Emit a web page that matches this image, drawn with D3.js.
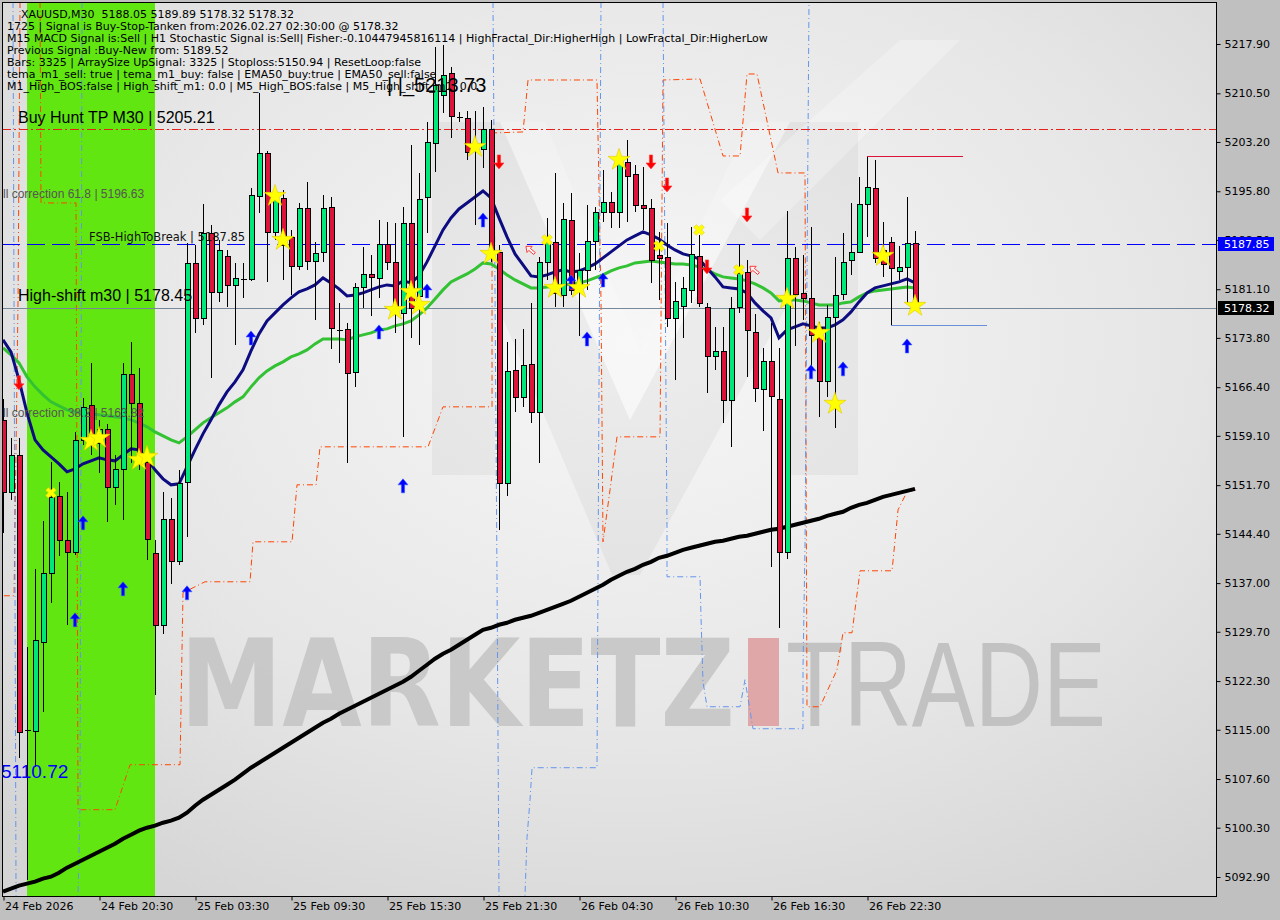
<!DOCTYPE html>
<html><head><meta charset="utf-8">
<script src="https://cdn.jsdelivr.net/npm/d3@7"></script>
<style>html,body{margin:0;padding:0;background:#c0c0c0;overflow:hidden}svg{display:block}</style>
</head><body>
<svg id="chart" width="1280" height="920"></svg>
<script>
// ---------------- DATA ----------------
const open = [5161.50,5150.70,5156.25,5115.00,5114.85,5128.20,5138.55,5150.10,5143.50,5141.70,
5158.50,5163.75,5158.05,5160.15,5151.45,5154.15,5168.40,5164.05,5155.20,5141.55,
5130.75,5146.65,5140.35,5152.20,5185.05,5176.80,5189.55,5180.70,5186.10,5181.75,
5182.70,5182.65,5195.10,5201.55,5189.70,5194.80,5188.95,5184.60,5193.30,5185.35,
5186.70,5193.45,5175.00,5175.15,5168.70,5181.45,5183.40,5182.80,5187.90,5185.20,
5177.55,5191.05,5180.10,5194.95,5203.05,5210.25,5213.55,5206.95,5206.80,5202.60,
5202.15,5205.15,5186.70,5152.05,5169.00,5164.95,5169.90,5162.70,5185.20,5188.20,
5180.25,5191.50,5181.30,5184.00,5188.35,5192.70,5194.20,5192.70,5200.20,5198.40,
5193.75,5193.30,5186.25,5185.95,5176.80,5178.60,5181.00,5186.10,5178.45,5171.10,
5171.85,5164.50,5178.45,5183.70,5174.70,5166.15,5170.35,5164.65,5141.70,5185.80,
5180.55,5179.80,5175.45,5167.35,5176.95,5180.40,5185.50,5186.70,5193.90,5196.30,
5187.00,5188.20,5183.85,5184.45,5188.05];
const high = [5164.65,5158.80,5158.80,5127.45,5139.15,5146.35,5155.20,5152.20,5150.70,5159.70,
5164.80,5170.05,5161.50,5160.90,5156.25,5170.05,5173.20,5169.30,5157.30,5143.50,
5150.70,5149.80,5154.00,5188.05,5187.75,5193.90,5190.75,5188.50,5187.00,5185.05,
5185.05,5196.30,5210.55,5201.85,5196.00,5196.00,5190.00,5194.05,5197.20,5188.20,
5195.25,5194.95,5179.05,5176.05,5182.05,5187.45,5186.25,5191.50,5191.20,5191.05,
5193.45,5202.75,5198.55,5206.20,5217.45,5217.75,5214.45,5207.70,5207.85,5207.85,
5208.45,5206.50,5187.75,5173.20,5173.65,5175.15,5179.05,5185.95,5191.80,5198.55,
5194.05,5195.55,5186.55,5193.75,5193.45,5199.00,5195.70,5201.25,5203.50,5199.75,
5199.45,5194.65,5189.70,5191.05,5182.20,5182.95,5190.45,5189.25,5179.05,5175.45,
5175.45,5179.95,5187.90,5185.50,5177.40,5172.30,5176.05,5172.30,5192.85,5187.45,
5186.25,5190.45,5176.20,5178.75,5185.95,5189.55,5194.05,5197.95,5200.95,5200.50,
5191.20,5188.95,5187.60,5194.95,5189.89];
const low = [5144.55,5149.50,5110.72,5092.50,5109.45,5117.70,5134.05,5141.10,5130.75,5141.25,
5157.75,5156.25,5153.55,5146.20,5148.75,5146.50,5155.05,5154.00,5140.50,5120.25,
5129.40,5136.90,5139.75,5143.95,5174.55,5175.75,5167.80,5179.20,5178.45,5172.75,
5179.80,5182.35,5192.55,5182.20,5188.50,5182.50,5180.25,5184.00,5184.00,5176.50,
5185.20,5172.15,5170.05,5155.05,5166.45,5178.30,5177.10,5179.80,5184.00,5174.55,
5158.95,5173.80,5172.75,5189.55,5198.70,5207.55,5203.80,5206.20,5200.50,5190.75,
5199.30,5185.20,5145.00,5150.10,5162.70,5163.45,5161.05,5155.05,5182.50,5178.45,
5178.45,5180.25,5174.10,5181.00,5184.00,5191.20,5190.30,5190.30,5191.20,5192.70,
5190.00,5182.05,5179.50,5175.45,5167.50,5173.80,5179.05,5178.45,5165.55,5169.00,
5161.05,5157.45,5177.55,5167.95,5164.20,5159.85,5139.45,5130.30,5140.65,5172.60,
5176.50,5168.55,5161.95,5164.95,5160.30,5179.50,5183.25,5186.55,5188.95,5185.05,
5182.95,5175.75,5182.50,5179.05,5178.32];
const close = [5150.70,5156.25,5114.70,5115.00,5128.50,5138.55,5149.95,5143.50,5141.70,5158.50,
5163.45,5158.05,5160.15,5151.45,5154.15,5168.40,5164.05,5155.95,5143.65,5130.75,
5146.65,5140.35,5152.05,5185.05,5176.80,5189.55,5180.70,5187.00,5181.75,5182.80,
5182.70,5195.25,5201.55,5189.70,5195.10,5187.75,5184.60,5193.30,5185.35,5186.55,
5193.30,5175.30,5175.00,5168.55,5181.45,5183.40,5182.95,5187.90,5185.20,5177.55,
5191.05,5178.30,5194.65,5203.20,5211.75,5213.25,5207.10,5206.80,5201.70,5202.30,
5205.15,5187.00,5152.05,5168.85,5164.95,5169.75,5162.70,5185.20,5188.20,5180.55,
5191.65,5181.00,5184.00,5188.35,5192.70,5194.20,5192.70,5200.50,5198.10,5193.75,
5193.30,5185.50,5185.80,5176.80,5179.35,5181.30,5186.40,5179.05,5171.10,5171.85,
5164.50,5178.30,5183.55,5175.00,5166.30,5170.35,5165.10,5141.70,5185.80,5180.40,
5179.80,5174.25,5167.35,5176.95,5180.25,5185.20,5186.70,5193.90,5196.45,5185.80,
5184.90,5184.30,5184.45,5188.05,5178.32];

const emaNavy = [5173.5,5171.7,5167.5,5162.55,5158.5,5157.0,5155.95,5154.9,5153.7,5154.15,
5154.9,5155.35,5155.8,5155.5,5155.35,5156.25,5157.15,5157.0,5155.65,5154.0,
5152.65,5151.75,5151.9,5154.45,5157.0,5159.4,5161.5,5163.75,5165.7,5167.2,
5169.0,5171.85,5174.4,5176.35,5177.55,5178.75,5179.8,5180.7,5181.15,5181.75,
5182.8,5182.05,5181.15,5180.1,5180.25,5180.55,5181.0,5181.45,5181.75,5181.6,
5182.35,5182.05,5183.1,5185.2,5187.6,5190.0,5191.8,5193.15,5194.05,5194.95,
5195.85,5194.8,5191.8,5188.95,5186.4,5184.75,5183.1,5182.95,5183.25,5183.7,
5184.0,5183.7,5183.85,5184.3,5184.9,5185.8,5186.7,5187.6,5188.5,5189.1,
5189.7,5189.25,5188.65,5187.75,5187.0,5186.4,5186.1,5185.65,5184.3,5182.95,
5181.45,5181.3,5181.15,5180.55,5179.05,5177.85,5176.8,5173.8,5175.0,5175.45,
5175.9,5175.6,5175.3,5175.3,5175.75,5176.5,5177.7,5179.2,5180.55,5181.3,
5181.6,5181.9,5182.2,5182.65,5182.05];
const emaGreen = [5172.3,5171.25,5170.05,5167.95,5166.45,5165.25,5164.2,5163.6,5163.0,5162.7,
5162.55,5162.4,5162.25,5162.1,5161.95,5161.8,5161.5,5161.05,5160.45,5159.7,
5159.1,5158.5,5158.05,5158.95,5160.0,5161.05,5161.8,5162.55,5163.3,5164.2,
5164.95,5166.45,5167.8,5168.85,5169.6,5170.2,5170.95,5171.4,5172.0,5172.9,
5173.65,5173.65,5173.65,5173.5,5173.95,5174.25,5174.55,5175.0,5175.15,5175.6,
5175.9,5176.35,5177.25,5178.3,5179.65,5181.0,5182.2,5182.8,5183.4,5184.15,
5185.05,5184.9,5184.15,5183.25,5182.5,5181.9,5181.3,5181.3,5181.45,5181.6,
5181.75,5181.9,5182.05,5182.35,5182.8,5183.25,5183.85,5184.3,5184.6,5185.05,
5185.2,5185.35,5185.2,5185.05,5184.9,5184.9,5184.75,5184.45,5184.0,5183.4,
5182.95,5182.8,5182.65,5182.35,5181.9,5181.3,5180.55,5179.35,5179.5,5179.5,
5179.35,5179.05,5178.75,5178.75,5178.75,5179.05,5179.2,5179.95,5180.55,5180.85,
5181.0,5181.15,5181.3,5181.45,5181.3];
const ema200 = [5090.7,5091.15,5091.6,5091.9,5092.2,5092.65,5092.95,5093.55,5094.3,5094.9,
5095.5,5096.1,5096.7,5097.3,5097.9,5098.65,5099.25,5099.85,5100.3,5100.6,
5101.05,5101.35,5101.8,5102.55,5103.6,5104.5,5105.25,5106.0,5106.75,5107.5,
5108.4,5109.3,5110.05,5110.8,5111.55,5112.3,5113.05,5113.8,5114.55,5115.3,
5116.05,5116.65,5117.4,5118.0,5118.6,5119.2,5119.8,5120.4,5121.0,5121.6,
5122.2,5122.95,5123.85,5124.75,5125.65,5126.4,5127.0,5127.75,5128.5,5129.25,
5130.0,5130.3,5130.75,5131.05,5131.5,5131.8,5132.1,5132.55,5133.0,5133.45,
5133.9,5134.35,5134.95,5135.55,5136.15,5136.75,5137.5,5138.1,5138.7,5139.15,
5139.75,5140.2,5140.8,5141.1,5141.55,5142.0,5142.3,5142.6,5142.9,5143.2,
5143.35,5143.65,5143.95,5144.1,5144.4,5144.7,5145.0,5145.15,5145.45,5145.75,
5146.05,5146.35,5146.65,5147.1,5147.4,5147.7,5148.3,5148.75,5149.05,5149.5,
5149.95,5150.25,5150.55,5150.85,5151.15];

const priceTicks = [5217.90,5210.50,5203.20,5195.80,5188.50,5181.10,5173.80,5166.40,5159.10,5151.70,5144.40,5137.00,5129.70,5122.30,5115.00,5107.60,5100.30,5092.90];
const timeTickBars = [0,12,24,36,48,60,72,84,96,108];
const timeTickLabels = ["24 Feb 2026","24 Feb 20:30","25 Feb 03:30","25 Feb 09:30","25 Feb 15:30","25 Feb 21:30","26 Feb 04:30","26 Feb 10:30","26 Feb 16:30","26 Feb 22:30"];

const buyHuntTP = 5205.21;
const fsbHighToBreak = 5187.85;
const lastPrice = 5178.32;
const highShift = 5178.45;
const corr618 = 5196.63;
const corr382 = 5163.82;
const lowLabel = 5110.72;
const highLabel = 5213.73;
const greenZoneBars = [3, 19];
const resistSeg = [108, 120, 5201.1];
const supportSeg = [111, 123, 5175.75];

const upArrowBars = [9,10,15,23,31,47,50,53,60,71,73,75,101,105,113];
const upArrowPrices = [5131.5,5146.05,5136.15,5135.55,5173.8,5174.7,5151.6,5180.85,5191.5,5182.2,5173.65,5182.5,5168.7,5169.15,5172.6];
const downArrowBars = [2,62,81,83,88,93];
const downArrowPrices = [5167.05,5200.2,5200.2,5196.75,5184.45,5192.25];
const hollowArrowBars = [65.9,93.9];
const hollowArrowPrices = [5187.0,5184.0];
const starBars = [11,12,17,18,34,35,49,51,52,59,61,69,72,77,98,102,104,110,114];
const starPrices = [5158.35,5158.8,5155.5,5155.95,5195.1,5188.5,5178.0,5180.7,5178.75,5202.45,5186.4,5181.3,5181.3,5200.5,5179.65,5174.55,5163.9,5186.1,5178.6];
const crossBars = [6,68,82,87,92];
const crossPrices = [5150.55,5188.5,5187.6,5190.0,5184.0];

// stepped channel lines [bar, price]
const orangeLineA = [[2.13,5224.2],[1.88,5179.5],[1.38,5135.1],[-0.13,5135.1]];
const orangeLineB = [[4.63,5224.2],[4.75,5194.05],[9.13,5194.05],[9.38,5103.0],[14.0,5103.0],[15.88,5109.75],[22.13,5109.75],[22.5,5135.55],[25.25,5137.2],[30.88,5137.2],[31.25,5143.2],[36.13,5143.2],[36.75,5151.75],[39.13,5151.75],[39.63,5157.45],[53.13,5157.45],[55.0,5163.45],[61.13,5163.45],[61.13,5204.55],[65.0,5204.7],[65.63,5212.5],[74.25,5212.5],[74.75,5179.5],[75.0,5143.2],[75.88,5151.0],[76.75,5158.95],[82.13,5158.95],[82.5,5212.5],[87.13,5212.65],[90.0,5201.1],[92.13,5201.1],[93.0,5213.4],[94.25,5213.4],[96.88,5198.55],[100.25,5198.55],[100.5,5118.45],[102.13,5118.45],[104.25,5124.0],[105.0,5129.55],[106.13,5129.55],[107.13,5138.85],[111.13,5138.85],[111.88,5148.0],[113.0,5150.7],[114.13,5151.0]];
const blueLine1 = [[1.25,5224.2],[1.63,5090.1]];
const blueLine2 = [[9.88,5224.2],[9.63,5103.45],[9.38,5090.1]];
const blueLine3 = [[61.25,5224.2],[61.75,5137.95],[62.0,5090.1]];
const blueLine4 = [[74.75,5224.2],[74.25,5109.3],[66.13,5109.3],[65.88,5104.5],[65.5,5098.8],[65.25,5090.1]];
const blueLine5 = [[82.5,5224.2],[83.0,5145.3],[83.0,5137.95],[87.13,5137.95],[87.25,5131.95],[87.5,5122.2],[88.0,5118.45],[92.13,5118.45],[92.75,5122.5],[93.75,5115.15],[100.0,5115.15],[100.0,5124.0],[100.25,5142.45],[100.38,5163.45],[100.75,5224.2]];

const headerLines = [
 "1725 | Signal is Buy-Stop-Tanken from:2026.02.27 02:30:00 @ 5178.32",
 "M15 MACD Signal is:Sell | H1 Stochastic Signal is:Sell| Fisher:-0.10447945816114 | HighFractal_Dir:HigherHigh | LowFractal_Dir:HigherLow",
 "Previous Signal :Buy-New from: 5189.52",
 "Bars: 3325 | ArraySize UpSignal: 3325 | Stoploss:5150.94 | ResetLoop:false",
 "tema_m1_sell: true | tema_m1_buy: false | EMA50_buy:true | EMA50_sell:false",
 "M1_High_BOS:false | High_shift_m1: 0.0 | M5_High_BOS:false | M5_High_shift_m1: 0.0"
];
const titleLine = "XAUUSD,M30  5188.05 5189.89 5178.32 5178.32";

// ---------------- DRAW ----------------
const svg = d3.select("#chart");
const L = 2, T = 2, R = 1216, B = 896;
const x = d3.scaleLinear().domain([0, 114]).range([3, 915]);
const y = d3.scaleLinear().domain([5092.9, 5217.9]).range([877, 44]);

const defs = svg.append("defs");
const rg = defs.append("radialGradient").attr("id","bg").attr("cx","0.52").attr("cy","0.38").attr("r","0.75");
rg.append("stop").attr("offset","0").attr("stop-color","#f7f7f7");
rg.append("stop").attr("offset","0.6").attr("stop-color","#e6e6e6");
rg.append("stop").attr("offset","1").attr("stop-color","#d4d4d4");
defs.append("clipPath").attr("id","plot").append("rect").attr("x",L).attr("y",T).attr("width",R-L).attr("height",B-T);

svg.append("rect").attr("width",1280).attr("height",920).attr("fill","#c0c0c0");
svg.append("rect").attr("x",L).attr("y",T).attr("width",R-L).attr("height",B-T).attr("fill","url(#bg)");

const g = svg.append("g").attr("clip-path","url(#plot)");

// logo watermark
g.append("path").attr("d","M432,122L500,122L630,420L790,122L858,122L858,475L790,475L790,300L640,575L612,575L495,300L495,475L432,475Z")
 .attr("fill","#000").attr("opacity",0.04);
g.append("path").attr("d","M500,122L545,122L640,350L750,122L790,122L630,420Z").attr("fill","#fff").attr("opacity",0.2);
g.append("path").attr("d","M720,200L900,40L960,40L760,240Z").attr("fill","#fff").attr("opacity",0.25);

// green zone
g.append("rect").attr("x",x(greenZoneBars[0])).attr("y",T).attr("width",x(greenZoneBars[1])-x(greenZoneBars[0])).attr("height",B-T).attr("fill","#62e612");

// MARKETZ TRADE watermark
g.append("text").attr("x",180).attr("y",726).attr("font-family","DejaVu Sans, sans-serif").attr("font-weight","bold")
 .attr("font-size",121).attr("textLength",555).attr("lengthAdjust","spacingAndGlyphs").attr("fill","#c6c6c6").attr("opacity",0.9).text("MARKETZ");
g.append("rect").attr("x",748).attr("y",638).attr("width",31).attr("height",88).attr("fill","#dfa7a7");
g.append("text").attr("x",786).attr("y",726).attr("font-family","Liberation Sans, Arial, sans-serif").attr("font-weight","normal")
 .attr("font-size",120).attr("textLength",320).attr("lengthAdjust","spacingAndGlyphs").attr("fill","#c2c2c2").text("TRADE");

// stepped lines
const stepLine = d3.line().x(d=>x(d[0])).y(d=>y(d[1]));
[orangeLineA, orangeLineB].forEach(a=>{
  g.append("path").attr("d",stepLine(a)).attr("fill","none").attr("stroke","#ff4500").attr("stroke-width",1).attr("stroke-dasharray","6,3,1,3");
});
[blueLine1, blueLine2, blueLine3, blueLine4, blueLine5].forEach(a=>{
  g.append("path").attr("d",stepLine(a)).attr("fill","none").attr("stroke","#6495ed").attr("stroke-width",1).attr("stroke-dasharray","6,3,1,3");
});

// horizontal level lines
g.append("line").attr("x1",L).attr("x2",R).attr("y1",Math.round(y(buyHuntTP))+0.5).attr("y2",Math.round(y(buyHuntTP))+0.5)
 .attr("stroke","#e8201c").attr("stroke-dasharray","9,3,2,3");
g.append("line").attr("x1",L).attr("x2",R).attr("y1",Math.round(y(fsbHighToBreak))+0.5).attr("y2",Math.round(y(fsbHighToBreak))+0.5)
 .attr("stroke","#0000ff").attr("stroke-dasharray","18,7");
g.append("line").attr("x1",L).attr("x2",R).attr("y1",Math.round(y(lastPrice))+0.5).attr("y2",Math.round(y(lastPrice))+0.5)
 .attr("stroke","#778899");
g.append("line").attr("x1",x(resistSeg[0])).attr("x2",x(resistSeg[1])).attr("y1",Math.round(y(resistSeg[2]))+0.5).attr("y2",Math.round(y(resistSeg[2]))+0.5).attr("stroke","#dc143c");
g.append("line").attr("x1",x(supportSeg[0])).attr("x2",x(supportSeg[1])).attr("y1",Math.round(y(supportSeg[2]))+0.5).attr("y2",Math.round(y(supportSeg[2]))+0.5).attr("stroke","#6a8fd8");

// moving averages
const maLine = d3.line().x((d,i)=>x(i)).y(d=>y(d));
g.append("path").attr("d",maLine(ema200)).attr("fill","none").attr("stroke","#000").attr("stroke-width",4);
g.append("path").attr("d",maLine(emaGreen)).attr("fill","none").attr("stroke","#33c233").attr("stroke-width",3);
g.append("path").attr("d",maLine(emaNavy)).attr("fill","none").attr("stroke","#0c0c80").attr("stroke-width",3);

// candles
const cg = g.append("g").attr("shape-rendering","crispEdges");
open.forEach((o,i)=>{
  const c = close[i], cx = Math.round(x(i)) + 0.5;
  cg.append("line").attr("x1",cx).attr("x2",cx).attr("y1",y(high[i])).attr("y2",y(low[i])).attr("stroke","#000");
  const top = y(Math.max(o,c)), bot = y(Math.min(o,c));
  if (bot - top < 1.5) {
    cg.append("line").attr("x1",cx-3).attr("x2",cx+3).attr("y1",Math.round(top)+0.5).attr("y2",Math.round(top)+0.5).attr("stroke","#000");
  } else {
    cg.append("rect").attr("x",cx-2.5).attr("y",Math.round(top)+0.5).attr("width",5).attr("height",Math.round(bot-top))
      .attr("fill", c>o ? "#00e87a" : "#dc143c").attr("stroke","#000").attr("stroke-width",1);
  }
});

// markers
const arrowUp = "M-1.6,7L1.6,7L1.6,-1L5,-1L0,-7L-5,-1L-1.6,-1Z";
upArrowBars.forEach((b,i)=>{
  g.append("path").attr("d",arrowUp).attr("transform",`translate(${x(b)},${y(upArrowPrices[i])})`).attr("fill","#0000ff").attr("stroke","#3a5cff").attr("stroke-width",0.6);
});
downArrowBars.forEach((b,i)=>{
  g.append("path").attr("d",arrowUp).attr("transform",`translate(${x(b)},${y(downArrowPrices[i])}) scale(1,-1)`).attr("fill","#ff0000").attr("stroke","#ff4040").attr("stroke-width",0.6);
});
hollowArrowBars.forEach((b,i)=>{
  g.append("path").attr("d",arrowUp).attr("transform",`translate(${x(b)},${y(hollowArrowPrices[i])}) rotate(-50) scale(0.8)`).attr("fill","#fff").attr("fill-opacity",0.6).attr("stroke","#ff2020").attr("stroke-width",1);
});
const star = d3.symbol().type(d3.symbolStar).size(150);
starBars.forEach((b,i)=>{
  g.append("path").attr("d",star()).attr("transform",`translate(${x(b)},${y(starPrices[i])})`).attr("fill","#ffff00").attr("stroke","#e6c800").attr("stroke-width",0.6);
});
const cross = d3.symbol().type(d3.symbolCross).size(70);
crossBars.forEach((b,i)=>{
  g.append("path").attr("d",cross()).attr("transform",`translate(${x(b)},${y(crossPrices[i])}) rotate(45)`).attr("fill","#ffff00").attr("stroke","#e6c800").attr("stroke-width",0.5);
});

// chart labels
const lbl = (t, px, py, size, color, fam) => g.append("text").attr("x",px).attr("y",py).attr("font-size",size).attr("fill",color)
  .attr("font-family",fam || "Liberation Sans, Arial, sans-serif").text(t);
lbl("Buy Hunt TP M30 | " + buyHuntTP.toFixed(2), 18, y(buyHuntTP)-6, 16, "#000");
lbl("High-shift m30 | " + highShift.toFixed(2), 18, y(highShift)-6, 16, "#000");
lbl("FSB-HighToBreak | " + fsbHighToBreak.toFixed(2), 89, y(fsbHighToBreak)-3, 11.5, "#111", "DejaVu Sans, sans-serif");
lbl("ll correction 61.8 | " + corr618.toFixed(2), 3, y(corr618)+12, 12, "#555");
lbl("ll correction 38.2 | " + corr382.toFixed(2), 3, y(corr382)+12.5, 12, "#555");
lbl(lowLabel.toFixed(2), 1, y(lowLabel)+20, 19, "#0000ff");
lbl("| |_" + highLabel.toFixed(2), 387, y(highLabel)+20, 20, "#000");

// header
const hdr = svg.append("g").attr("font-family","DejaVu Sans, sans-serif").attr("font-size",11).attr("fill","#000");
hdr.append("text").attr("x",21).attr("y",17.5).text(titleLine).attr("xml:space","preserve").style("white-space","pre");
headerLines.forEach((t,i)=>hdr.append("text").attr("x",7).attr("y",29.5+12*i).text(t));

// frame
svg.append("rect").attr("x",L+0.5).attr("y",T+0.5).attr("width",R-L).attr("height",B-T).attr("fill","none").attr("stroke","#000");

// axes
const yAxis = d3.axisRight(y).tickValues(priceTicks).tickFormat(d3.format(".2f")).tickSize(4).tickPadding(4);
const ya = svg.append("g").attr("transform",`translate(${R+0.5},0)`).call(yAxis);
ya.select(".domain").remove();
ya.selectAll("text").attr("font-family","DejaVu Sans, sans-serif").attr("font-size",11).attr("fill","#000");
ya.selectAll("line").attr("stroke","#000");

const xAxis = d3.axisBottom(x).tickValues(timeTickBars).tickFormat((d,i)=>timeTickLabels[i]).tickSize(4).tickPadding(2);
const xa = svg.append("g").attr("transform",`translate(0.5,${B+0.5})`).call(xAxis);
xa.select(".domain").remove();
xa.selectAll("text").attr("font-family","DejaVu Sans, sans-serif").attr("font-size",11).attr("fill","#000").attr("text-anchor","start").attr("x",1);
xa.selectAll("line").attr("stroke","#000");

// price boxes
const box = (p, bg) => {
  const yy = Math.round(y(p));
  svg.append("rect").attr("x",R+2).attr("y",yy-7).attr("width",56).attr("height",14).attr("fill",bg);
  svg.append("text").attr("x",R+8).attr("y",yy+4).attr("font-family","DejaVu Sans, sans-serif").attr("font-size",11).attr("fill","#fff").text(p.toFixed(2));
};
box(fsbHighToBreak, "#0000ff");
box(lastPrice, "#000");
</script>
</body></html>
